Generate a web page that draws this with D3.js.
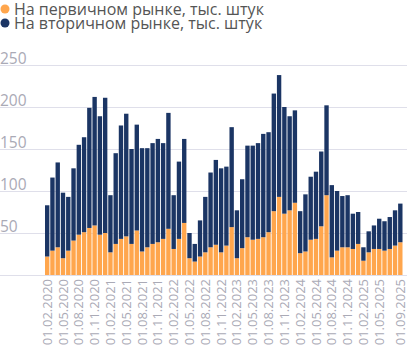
<!DOCTYPE html>
<html><head><meta charset="utf-8">
<script src="https://cdn.jsdelivr.net/npm/d3@7"></script>
<style>html,body{margin:0;padding:0;background:#fff;}svg{display:block;font-family:"Open Sans",sans-serif;}</style>
</head><body>
<svg id="c" width="407" height="360"></svg>
<script>
const months = [];
for (let y = 2020, m = 2; !(y === 2025 && m > 9); ) {
  months.push("01." + String(m).padStart(2, "0") + "." + y);
  m++; if (m > 12) { m = 1; y++; }
}
const primary = [22,29,33,20,29,41,48,51,56,59,48,50,
  27,37,43,46,37,53,28,33,37,39,43,55,31,43,62,20,16,22,27,33,36,27,
  35,57,20,32,45,42,43,45,51,76,93,73,77,86,26,28,42,43,58,95,21,29,33,33,
  31,37,17,27,31,31,29,31,35,39];
const secondaryTotal = [83,116,134,98,93,127,155,164,199,212,189,211,
  95,145,178,192,150,179,151,151,157,162,157,193,95,135,162,50,37,65,93,122,137,127,
  129,176,77,114,154,154,157,168,170,216,238,200,189,196,76,96,117,123,147,202,107,100,94,95,
  73,75,33,52,59,67,64,69,77,85];
const secondary = secondaryTotal.map((t, i) => t - primary[i]);
const tickLabels = ["01.02.2020","01.05.2020","01.08.2020","01.11.2020","01.02.2021","01.05.2021","01.08.2021","01.11.2021","01.02.2022","01.05.2022","01.08.2022","01.11.2022","01.02.2023","01.05.2023","01.08.2023","01.11.2023","01.02.2024","01.05.2024","01.08.2024","01.11.2024","01.02.2025","01.05.2025","01.09.2025"];
const yTicks = [50,100,150,200,250];
const seriesNames = ["На первичном рынке, тыс. штук","На вторичном рынке, тыс. штук"];
const colors = ["#ffa64d","#1b3564"];

const svg = d3.select("#c");
const x = d3.scaleBand().domain(months).range([45, 402.5]).paddingInner(0.17).paddingOuter(0);
const y = d3.scaleLinear().domain([0, 250]).range([275, 65]);

// gridlines
svg.append("g").selectAll("line").data([0].concat(yTicks)).join("line")
  .attr("x1", 0).attr("x2", 407).attr("y1", d => y(d)).attr("y2", d => y(d))
  .attr("stroke", "#dfdfea").attr("stroke-width", 1).attr("shape-rendering","crispEdges");
svg.append("g").selectAll("text").data(yTicks).join("text")
  .attr("x", 0).attr("y", d => y(d) - 1).text(d => d)
  .attr("font-size", 15.5).attr("fill", "#aaaab6");

const stack = d3.stack().keys([0,1])(months.map((m, i) => ({m, 0: primary[i], 1: secondary[i]})));
svg.append("g").selectAll("g").data(stack).join("g").attr("fill", (d, i) => colors[i])
  .selectAll("rect").data(d => d).join("rect")
  .attr("x", d => x(d.data.m)).attr("width", x.bandwidth())
  .attr("y", d => y(d[1])).attr("height", d => y(d[0]) - y(d[1]));

// x axis
const xa = svg.append("g").attr("transform", "translate(0,278)")
  .call(d3.axisBottom(x).tickValues(tickLabels).tickSize(0).tickPadding(0));
xa.select(".domain").remove();
xa.selectAll("text").attr("transform", "rotate(-90)").attr("text-anchor", "end")
  .attr("x", -1).attr("y", 0).attr("dy", "0.35em")
  .attr("font-size", 13).attr("font-family", "Open Sans, sans-serif").attr("fill", "#aaaab6");

// legend
const lg = svg.append("g").selectAll("g").data(seriesNames).join("g")
  .attr("transform", (d, i) => `translate(0,${9 + i * 14})`);
lg.append("circle").attr("cx", 5).attr("cy", 0).attr("r", 4.5).attr("fill", (d, i) => colors[i]);
lg.append("text").attr("x", 14).attr("y", 0).attr("dy", "0.35em").text(d => d)
  .attr("font-size", 16).attr("fill", "#555");
</script>
</body></html>
